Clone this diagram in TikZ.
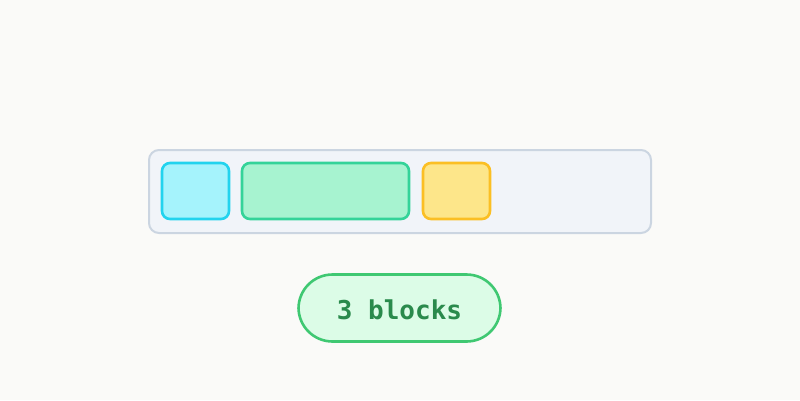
\documentclass[tikz,border=0pt]{standalone}
\usepackage{fontspec}
\setmonofont{DejaVu Sans Mono}
\definecolor{bg}{HTML}{FAFAF8}
\definecolor{trayfill}{HTML}{F1F4F9}
\definecolor{trayline}{HTML}{CBD5E1}
\definecolor{cyanfill}{HTML}{A5F3FC}
\definecolor{cyanline}{HTML}{22D3EE}
\definecolor{greenfill}{HTML}{A7F3D0}
\definecolor{greenline}{HTML}{34D399}
\definecolor{yellowfill}{HTML}{FDE68A}
\definecolor{yellowline}{HTML}{FBBF24}
\definecolor{pillfill}{HTML}{DCFCE7}
\definecolor{pillline}{HTML}{3FC872}
\definecolor{pilltext}{HTML}{2A8A4C}
\begin{document}
\begin{tikzpicture}[x=1pt,y=-1pt,
  tray/.style={draw=trayline,fill=trayfill,line width=2pt,rounded corners=10pt},
  block/.style={line width=2.6pt,rounded corners=8pt},
  pill/.style={draw=pillline,fill=pillfill,line width=2.6pt,rounded corners=34pt,
    minimum width=202pt,minimum height=67pt,inner sep=0pt,
    font=\ttfamily\bfseries\fontsize{26}{30}\selectfont,text=pilltext}]
\fill[bg] (0,0) rectangle (800,400);
\useasboundingbox (0,0) rectangle (800,400);
\draw[tray] (149,150) rectangle (651,233);
\draw[block,draw=cyanline,fill=cyanfill] (162,163) rectangle (229,219);
\draw[block,draw=greenline,fill=greenfill] (242,163) rectangle (409,219);
\draw[block,draw=yellowline,fill=yellowfill] (423,163) rectangle (490,219);
\node[pill] (count) at (399.5,308) {};
\node[font=\ttfamily\bfseries\fontsize{26}{30}\selectfont,text=pilltext,inner sep=0pt] (label) at (399.5,310) {3 blocks};
\end{tikzpicture}
\end{document}
